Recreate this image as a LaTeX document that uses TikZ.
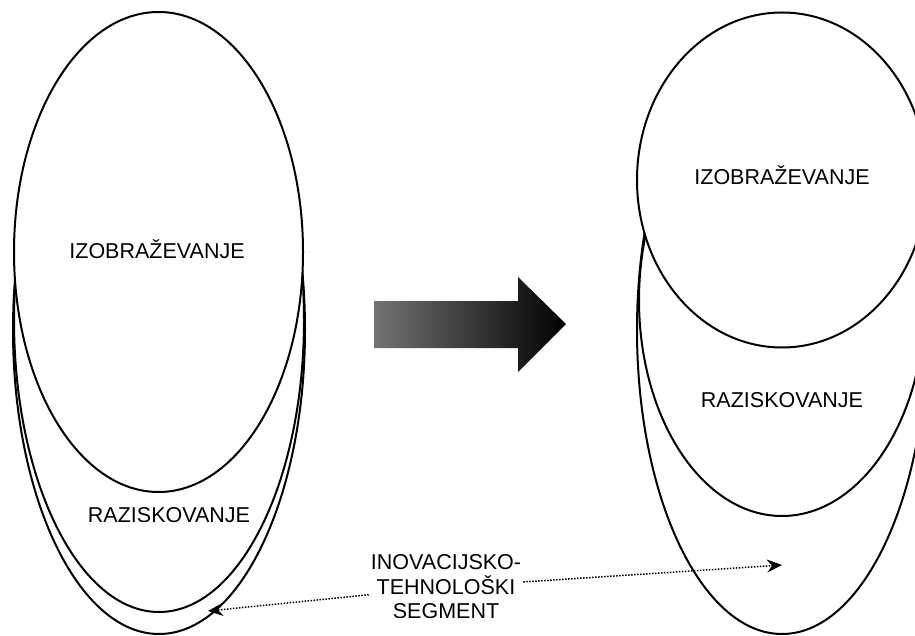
\documentclass[tikz,border=0pt]{standalone}
\usepackage{fontspec}
\setmainfont{Liberation Sans}
\usetikzlibrary{shapes.geometric,arrows.meta}
\begin{document}
\begin{tikzpicture}[x=1pt,y=-1pt,
  oval/.style={ellipse,draw,fill=white,line width=2pt,inner sep=0pt},
  lab/.style={font=\fontsize{21.5}{24.5}\selectfont,inner sep=0pt},
  segm/.style={lab,align=center,fill=white,inner sep=2pt},
  link/.style={-{Stealth[length=15pt,width=13pt,inset=5pt]},line width=1.5pt,
    dash pattern=on 1.5pt off 1.5pt}]
\useasboundingbox (0,0) rectangle (915,636);
\clip (0,0) rectangle (915,636);
% before
\node[oval,minimum width=292pt,minimum height=608pt] (lseg) at (159,330) {};
\node[oval,minimum width=290pt,minimum height=584pt] (lras) at (159,320) {};
\node[oval,minimum width=289pt,minimum height=480pt] (lizo) at (158.5,252) {};
\node[lab] (lizot) at (157,249) {IZOBRAŽEVANJE};
\node[lab] (lrast) at (169,515) {RAZISKOVANJE};
% after
\node[oval,minimum width=290pt,minimum height=608pt] (rseg) at (782,330) {};
\node[oval,minimum width=286pt,minimum height=432pt] (rras) at (782,300) {};
\node[oval,minimum width=290pt,minimum height=335pt] (rizo) at (782,180) {};
\node[lab] (rizot) at (782,175) {IZOBRAŽEVANJE};
\node[lab] (rrast) at (782,400) {RAZISKOVANJE};
% big arrow
\shade[left color=black!55,right color=black]
  (374,301) -- (518,301) -- (518,277) -- (566,324) -- (518,372) -- (518,348) -- (374,348) -- cycle;
% segment
\coordinate (ltip) at (208,611);
\coordinate (rtip) at (782,565);
\node[segm] (seg) at (446,587) {INOVACIJSKO-\\TEHNOLOŠKI\\SEGMENT};
\draw[link] (seg) -- (ltip);
\draw[link] (seg) -- (rtip);
\end{tikzpicture}
\end{document}
